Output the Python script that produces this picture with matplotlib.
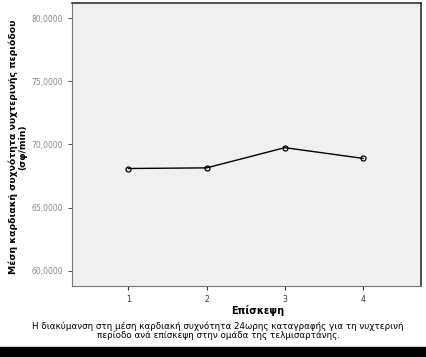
import matplotlib
matplotlib.use("Agg")
from matplotlib import pyplot as plt
from matplotlib.patches import Rectangle

visits = [1, 2, 3, 4]
heart_rate = [68.1, 68.15, 69.75, 68.9]
yticks = [60, 65, 70, 75, 80]
ytick_labels = ['60,0000', '65,0000', '70,0000', '75,0000', '80,0000']

plt.rcParams['font.family'] = ['DejaVu Sans']

fig = plt.figure(figsize=(4.26, 3.57), dpi=100)
ax = fig.add_axes([72/426, 71/357, 349/426, 283/357])
ax.set_facecolor('#f0f0f0')

ax.plot(visits, heart_rate, color='black', lw=1, marker='o', ms=3.6,
        mfc='none', mec='black', mew=0.9)

ax.set_xlim(0.28, 4.74)
ax.set_ylim(58.8, 81.2)
ax.set_xticks(visits)
ax.set_yticks(yticks)
ax.set_yticklabels(ytick_labels)
ax.tick_params(axis='y', labelsize=5.5, labelcolor='#888888', length=3, width=0.8, color='#555555')
ax.tick_params(axis='x', labelsize=5.5, labelcolor='#333333', length=3, width=0.8, color='#333333')

for side in ['left', 'bottom']:
    ax.spines[side].set_color('#777777')
    ax.spines[side].set_linewidth(0.8)
for side in ['top', 'right']:
    ax.spines[side].set_color('#333333')
    ax.spines[side].set_linewidth(1.2)

fig.text(18/426, 1 - 147/357, 'Μέση καρδιακή συχνότητα νυχτερινής περιόδου\n(σφ/min)',
         rotation=90, ha='center', va='center', fontsize=6.7, fontweight='bold',
         linespacing=1.0)
fig.text(258/426, 1 - 311/357, 'Επίσκεψη', ha='center', va='center',
         fontsize=7, fontweight='bold')
fig.text(218/426, 1 - 331/357,
         'Η διακύμανση στη μέση καρδιακή συχνότητα 24ωρης καταγραφής για τη νυχτερινή\n'
         'περίοδο ανά επίσκεψη στην ομάδα της τελμισαρτάνης.',
         ha='center', va='center', fontsize=6.3, linespacing=1.05)

fig.patches.append(Rectangle((0, 0), 1, 10/357, transform=fig.transFigure,
                             color='black', zorder=0))

fig.savefig('out.png', dpi=100)
